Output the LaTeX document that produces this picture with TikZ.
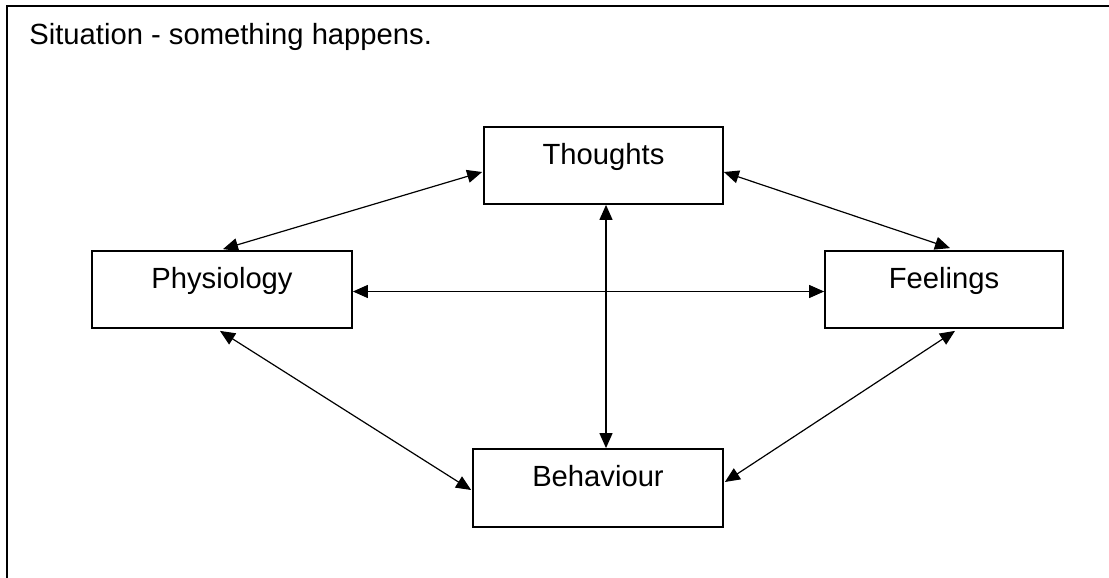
\documentclass[tikz,border=0pt]{standalone}
\usepackage{fontspec}
\setmainfont{Liberation Sans}
\usetikzlibrary{arrows.meta,calc}

\tikzset{
  box/.style={draw, line width=0.9pt, inner sep=0pt, minimum height=38.5pt,
    text height=10.5pt, text depth=12pt},
  link/.style={line width=0.6pt, {Triangle[length=7.5pt,width=6.5pt]}-{Triangle[length=7.5pt,width=6.5pt]}}
}

\begin{document}
\begin{tikzpicture}[x=0.5pt, y=-0.5pt, font=\fontsize{14.6pt}{17pt}\selectfont]

		\clip (0,0) rectangle (1109,578);
		\fill[white] (0,0) rectangle (1109,578);

		% Frame
		\draw[line width=0.9pt] (7,6) rectangle (1130,600);
		\node[anchor=base west, inner sep=0pt] (sit) at (29,45) {Situation - something happens.};

		% Define nodes
		\node[box, minimum width=119.5pt] (th) at (603.5,165.5) {Thoughts};
		\node[box, minimum width=130pt]   (ph) at (222,289.5)   {Physiology};
		\node[box, minimum width=119pt]   (fe) at (944,289.5)   {Feelings};
		\node[box, minimum width=125pt, minimum height=39pt] (be) at (598,488) {Behaviour};

		% Connect the nodes
		\draw[link] ($(th.west)+(-1,6.5)$) -- ($(ph.north)+(1,-1)$);
		\draw[link] ($(th.east)+(0,6.5)$) -- ($(fe.north)+(6,-2)$);
		\draw[link] ($(ph.east)+(0,2)$) -- ($(fe.west)+(0,2)$);
		\draw[link] ($(th.south)+(2.5,0)$) coordinate (tb) -- (tb |- be.north);
		\draw[link] ($(ph.south)+(-2,2)$) -- ($(be.west)+(-1,2)$);
		\draw[link] ($(fe.south)+(11,2)$) -- ($(be.east)+(1,-6)$);

\end{tikzpicture}
\end{document}
